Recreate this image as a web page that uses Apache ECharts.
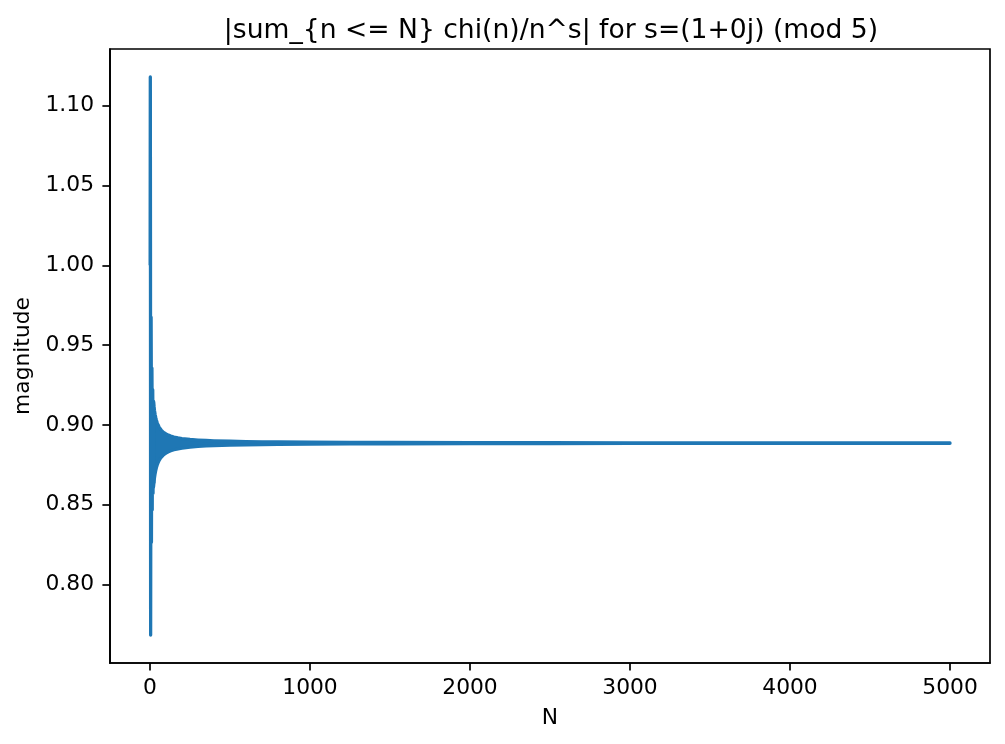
<!DOCTYPE html>
<html>
<head>
<meta charset="utf-8">
<script src="https://cdn.jsdelivr.net/npm/echarts@6/dist/echarts.min.js"></script>
<style>
  html, body { margin: 0; padding: 0; background: #ffffff; }
  #chart { width: 1005px; height: 744px; }
</style>
</head>
<body>
<div id="chart"></div>
<script>
// First partial sums |sum_{n<=N} chi(n)/n|
const nValues = [
  1, 2, 3, 4, 5, 6, 7, 8, 9, 10, 11, 12, 13, 14, 15, 16, 17, 18, 19, 20, 21, 22, 23, 24, 25
];
const magnitudes = [
  1.0000, 1.1180, 1.0138, 0.7683, 0.7683, 0.9317, 0.9675, 0.9351, 0.8264, 0.8264,
  0.9153, 0.9356, 0.9166, 0.8468, 0.8468, 0.9078, 0.9220, 0.9085, 0.8572, 0.8572,
  0.9036, 0.9145, 0.9041, 0.8634, 0.8634
];
// Beyond that the line oscillates too densely to separate: its upper and lower
// turning points, read off the edges of the solid band
const bandN = [
  22, 25, 28, 32, 36, 40, 45, 50, 56, 63, 70, 80, 90, 100, 115, 130, 150, 175, 200,
  250, 300, 350, 400, 500, 600, 700, 800, 1000, 1250, 1500, 2000, 2500, 3000, 4000, 5000
];
const bandUpper = [
  0.91463, 0.91150, 0.90904, 0.90649, 0.90450, 0.90291, 0.90131, 0.90004, 0.89881, 0.89768,
  0.89677, 0.89574, 0.89495, 0.89431, 0.89356, 0.89299, 0.89240, 0.89185, 0.89145,
  0.89087, 0.89049, 0.89022, 0.89001, 0.88973, 0.88954, 0.88940, 0.88930, 0.88915,
  0.88904, 0.88896, 0.88887, 0.88881, 0.88877, 0.88872, 0.88870
];
const bandLower = [
  0.86119, 0.86435, 0.86686, 0.86949, 0.87155, 0.87321, 0.87488, 0.87623, 0.87753, 0.87874,
  0.87971, 0.88080, 0.88166, 0.88234, 0.88315, 0.88377, 0.88441, 0.88500, 0.88545,
  0.88607, 0.88649, 0.88679, 0.88701, 0.88732, 0.88753, 0.88768, 0.88779, 0.88795,
  0.88808, 0.88816, 0.88827, 0.88833, 0.88837, 0.88842, 0.88845
];
const xTicks = [0, 1000, 2000, 3000, 4000, 5000];
const yTicks = [0.80, 0.85, 0.90, 0.95, 1.00, 1.05, 1.10];
const titleText = '|sum_{n <= N} chi(n)/n^s| for s=(1+0j) (mod 5)';

const BLUE = '#1f77b4';
const LW = 3.3;
const lineData = nValues.map((n, i) => [n, magnitudes[i]]);

function renderBand(params, api) {
  const pts = [];
  for (let i = 0; i < bandN.length; i++) pts.push(api.coord([bandN[i], bandUpper[i]]));
  for (let i = bandN.length - 1; i >= 0; i--) pts.push(api.coord([bandN[i], bandLower[i]]));
  return {
    type: 'polygon',
    shape: { points: pts },
    style: { fill: BLUE, stroke: BLUE, lineWidth: LW, lineJoin: 'round' }
  };
}

const FONT = 'DejaVu Sans';
const chart = echarts.init(document.getElementById('chart'), null, { renderer: 'canvas' });
chart.setOption({
  animation: false,
  backgroundColor: '#ffffff',
  title: {
    text: titleText,
    left: 546,
    textAlign: 'center',
    top: 13,
    textStyle: { fontFamily: FONT, fontSize: 26.6, fontWeight: 'normal', color: '#000000' }
  },
  grid: {
    left: 110, right: 15, top: 49, bottom: 81,
    show: true, borderColor: '#000000', borderWidth: 1.7, backgroundColor: 'transparent'
  },
  xAxis: {
    type: 'value',
    min: -249.95,
    max: 5249.95,
    name: 'N',
    nameLocation: 'middle',
    nameGap: 44,
    nameTextStyle: { fontFamily: FONT, fontSize: 21.8, color: '#000000' },
    axisLine: { show: true, onZero: false, lineStyle: { color: '#000000', width: 1.7 } },
    axisTick: { show: true, length: 7.6, customValues: xTicks, lineStyle: { color: '#000000', width: 1.7 } },
    axisLabel: {
      customValues: xTicks, margin: 14,
      fontFamily: FONT, fontSize: 21.8, color: '#000000',
      formatter: v => String(v)
    },
    splitLine: { show: false }
  },
  yAxis: {
    type: 'value',
    min: 0.75081,
    max: 1.13550,
    name: 'magnitude',
    nameLocation: 'middle',
    nameGap: 69,
    nameTextStyle: { fontFamily: FONT, fontSize: 21.8, color: '#000000' },
    axisLine: { show: true, onZero: false, lineStyle: { color: '#000000', width: 1.7 } },
    axisTick: { show: true, length: 7.6, customValues: yTicks, lineStyle: { color: '#000000', width: 1.7 } },
    axisLabel: {
      customValues: yTicks, margin: 16,
      fontFamily: FONT, fontSize: 21.8, color: '#000000',
      formatter: v => v.toFixed(2)
    },
    splitLine: { show: false }
  },
  series: [
    {
      type: 'line',
      data: lineData,
      showSymbol: false,
      symbol: 'none',
      lineStyle: { color: BLUE, width: LW, join: 'round', cap: 'butt' },
      itemStyle: { color: BLUE },
      emphasis: { disabled: true },
      z: 3
    },
    {
      type: 'custom',
      data: [[bandN[0], bandUpper[0]]],
      renderItem: renderBand,
      silent: true,
      z: 3
    }
  ]
});
</script>
</body>
</html>
